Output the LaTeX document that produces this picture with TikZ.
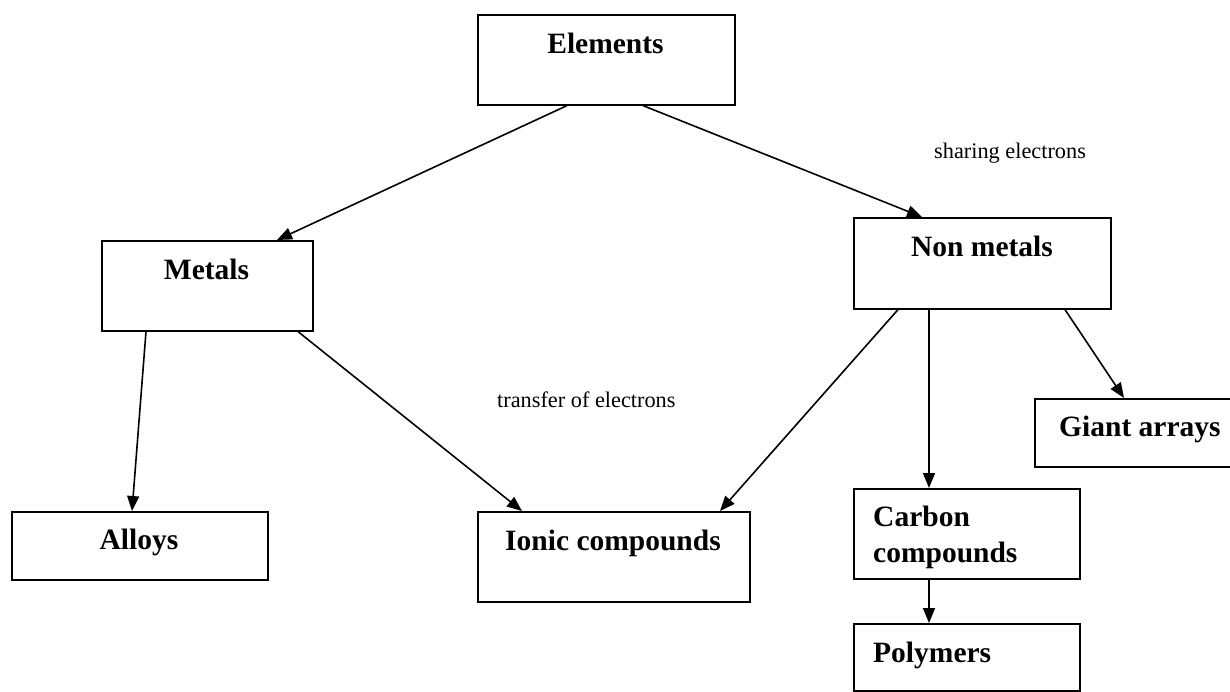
\documentclass[tikz,border=0pt]{standalone}
\usepackage{fontspec}
\setmainfont{Liberation Serif}
\usetikzlibrary{arrows.meta}
\begin{document}
\begin{tikzpicture}[x=1pt,y=-1pt,
  box/.style={draw,line width=1.6pt,rectangle,inner sep=0pt,anchor=north west},
  lbl/.style={inner sep=0pt,font=\bfseries\fontsize{29.5}{36}\selectfont},
  note/.style={inner sep=0pt,anchor=base west,font=\fontsize{22.3}{26}\selectfont},
  conn/.style={line width=1.6pt,-{Triangle[length=15pt,width=12pt]}}]
\useasboundingbox (0,0) rectangle (1230,691);
% boxes
\node[box,minimum width=257pt,minimum height=90pt] (elem) at (477,14) {};
\node[box,minimum width=211pt,minimum height=90pt] (metals) at (101,240) {};
\node[box,minimum width=257pt,minimum height=91pt] (nonmet) at (853,217) {};
\node[box,minimum width=256pt,minimum height=68pt] (alloys) at (11,511) {};
\node[box,minimum width=272pt,minimum height=90pt] (ionic) at (477,511) {};
\node[box,minimum width=226pt,minimum height=90pt] (carbon) at (853,488) {};
\node[box,minimum width=226pt,minimum height=67pt] (poly) at (853,623) {};
\node[box,minimum width=216pt,minimum height=68pt] (giant) at (1034,398) {};
% texts
\node[lbl,anchor=base] (telem) at (605.5,53) {Elements};
\node[lbl,anchor=base] (tmetals) at (206.5,279) {Metals};
\node[lbl,anchor=base] (tnonmet) at (982,256) {Non metals};
\node[lbl,anchor=base] (talloys) at (139,549) {Alloys};
\node[lbl,anchor=base] (tionic) at (613,550) {Ionic compounds};
\node[lbl,anchor=base west] (tgiant) at (1059,436) {Giant arrays};
\node[lbl,anchor=base west] (tcarbon1) at (873,526) {Carbon};
\node[lbl,anchor=base west] (tcarbon2) at (873,562) {compounds};
\node[lbl,anchor=base west] (tpoly) at (873,662) {Polymers};
\node[note] (share) at (934,158) {sharing electrons};
\node[note] (transfer) at (497,407) {transfer of electrons};
% connectors
\draw[conn] ([xshift=90pt]elem.south west) -- ([xshift=176pt]metals.north west);
\draw[conn] ([xshift=166pt]elem.south west) -- ([xshift=69pt]nonmet.north west);
\draw[conn] ([xshift=45pt]metals.south west) -- ([xshift=121pt]alloys.north west);
\draw[conn] ([xshift=197pt]metals.south west) -- ([xshift=45pt]ionic.north west);
\draw[conn] ([xshift=45pt]nonmet.south west) -- ([xshift=243pt]ionic.north west);
\draw[conn] ([xshift=76pt]nonmet.south west) -- ([xshift=76pt]carbon.north west);
\draw[conn] ([xshift=212pt]nonmet.south west) -- ([xshift=90pt]giant.north west);
\draw[conn] ([xshift=76pt]carbon.south west) -- ([xshift=76pt]poly.north west);
\end{tikzpicture}
\end{document}
